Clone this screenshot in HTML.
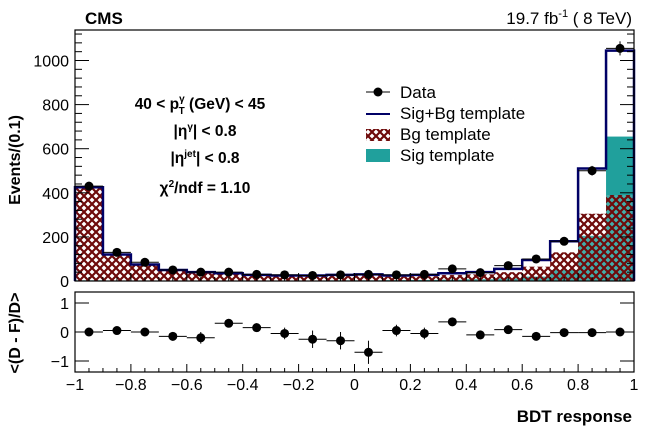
<!DOCTYPE html>
<html><head><meta charset="utf-8"><style>
body{margin:0;background:#fff}
svg text{font-family:"Liberation Sans",Arial,sans-serif}
</style></head><body>
<svg id="c" width="646" height="433" xmlns="http://www.w3.org/2000/svg">
<defs>
<pattern id="hatch" patternUnits="userSpaceOnUse" width="8" height="8">
<rect width="8" height="8" fill="#fff" fill-opacity="0.15"/>
<path d="M0,0 L8,8 M8,0 L0,8" stroke="#6e0a0a" stroke-width="2.2"/>
</pattern>
</defs>
<g id="topg"></g><g id="botg"></g>
<text x="85" y="24" font-size="17" font-weight="bold">CMS</text>
<text x="632" y="24" font-size="17" text-anchor="end">19.7 fb<tspan dy="-7" font-size="11">-1</tspan><tspan dy="7"> ( 8 TeV)</tspan></text>
<g font-size="15.5" font-weight="bold" text-anchor="middle">
<text x="200" y="109">40 &lt; p<tspan dy="-7" font-size="10">γ</tspan><tspan dx="-6" dy="12" font-size="10">T</tspan><tspan dy="-5"> (GeV) &lt;  45</tspan></text>
<text x="205" y="136">|η<tspan dy="-6" font-size="10">γ</tspan><tspan dy="6">| &lt; 0.8</tspan></text>
<text x="205" y="163">|η<tspan dy="-6" font-size="10">jet</tspan><tspan dy="6">| &lt; 0.8</tspan></text>
<text x="205" y="193">χ<tspan dy="-6" font-size="10">2</tspan><tspan dy="6">/ndf = 1.10</tspan></text>
</g>
<g font-size="17">
<g><line x1="366" y1="92" x2="390" y2="92" stroke="#000"/><circle cx="378" cy="92" r="4.5"/><text x="400" y="98">Data</text></g>
<g><line x1="366" y1="114" x2="390" y2="114" stroke="#000066" stroke-width="2"/><text x="400" y="119">Sig+Bg template</text></g>
<g><rect x="366" y="129" width="24" height="12" fill="url(#hatch)"/><text x="400" y="140">Bg template</text></g>
<g><rect x="366" y="149" width="24" height="13" fill="#20a09c"/><text x="400" y="161">Sig template</text></g>
</g>
<text transform="translate(20,160) rotate(-90)" font-size="16" font-weight="bold" text-anchor="middle">Events/(0.1)</text>
<text transform="translate(20,333) rotate(-90)" font-size="16" font-weight="bold" text-anchor="middle">&lt;(D - F)/D&gt;</text>
<text x="632" y="422" font-size="17" font-weight="bold" text-anchor="end">BDT response</text>
</svg>
<script>
const edges=[-1,-0.9,-0.8,-0.7,-0.6,-0.5,-0.4,-0.3,-0.2,-0.1,0,0.1,0.2,0.3,0.4,0.5,0.6,0.7,0.8,0.9,1];
const dataVals=[430,130,85,50,40,40,30,28,25,28,30,28,30,55,38,70,100,180,500,1055];
const dataErr=[20,12,9,7,6,6,6,5,5,5,20,5,5,7,6,8,10,13,22,32];
const fitVals=[425,120,75,50,40,35,28,25,25,28,30,25,28,35,40,55,95,180,510,1045];
const bgVals=[420,118,73,47,37,33,26,23,22,25,26,20,22,27,30,40,65,130,305,390];
const sigVals=[3,2,2,2,2,2,2,2,2,3,3,4,5,6,8,12,20,50,205,655];
const ratioVals=[0,0.05,0,-0.15,-0.2,0.3,0.15,-0.05,-0.25,-0.3,-0.7,0.05,-0.05,0.35,-0.1,0.08,-0.15,-0.02,-0.02,0];
const ratioErr=[0.05,0.05,0.08,0.15,0.2,0.1,0.15,0.2,0.3,0.3,0.4,0.2,0.2,0.1,0.15,0.1,0.1,0.06,0.05,0.04];
const yTicks=[0,200,400,600,800,1000];
const rTicks=[-1,0,1];
const xTicks=[-1,-0.8,-0.6,-0.4,-0.2,0,0.2,0.4,0.6,0.8,1];

const NS="http://www.w3.org/2000/svg";
const L=75,R=634,T=30,B=281,RT=292,RB=372;
const sx=v=>L+(v+1)/2*(R-L);
const sy=v=>B-v*0.2205;
const ry=v=>332-v*29;
function mk(p,tag,a){const e=document.createElementNS(NS,tag);for(const k in a)e.setAttribute(k,a[k]);p.appendChild(e);return e;}
const topG=document.getElementById('topg'),botG=document.getElementById('botg');
for(let i=0;i<sigVals.length;i++){const x0=sx(edges[i]),x1=sx(edges[i+1]);
const r=mk(topG,'rect',{x:x0,y:sy(sigVals[i]),width:x1-x0,height:B-sy(sigVals[i]),fill:'#20a09c'});

}
for(let i=0;i<bgVals.length;i++){const x0=sx(edges[i]),x1=sx(edges[i+1]);
const r=mk(topG,'rect',{x:x0,y:sy(bgVals[i]),width:x1-x0,height:B-sy(bgVals[i]),fill:'url(#hatch)'});

}
let d='M'+sx(edges[0])+','+B;
for(let i=0;i<fitVals.length;i++){d+=' L'+sx(edges[i])+','+sy(fitVals[i])+' L'+sx(edges[i+1])+','+sy(fitVals[i]);}
d+=' L'+sx(1)+','+B;
const fl=mk(topG,'path',{d:d,fill:'none',stroke:'#000066','stroke-width':2.5});


for(let i=0;i<dataVals.length;i++){const c=(edges[i]+edges[i+1])/2,y=sy(dataVals[i]);
mk(topG,'line',{x1:sx(edges[i]),x2:sx(edges[i+1]),y1:y,y2:y,stroke:'#000'});
mk(topG,'line',{x1:sx(c),x2:sx(c),y1:sy(dataVals[i]-dataErr[i]),y2:sy(dataVals[i]+dataErr[i]),stroke:'#000'});
const p=mk(topG,'circle',{cx:sx(c),cy:y,r:4.5,fill:'#000'});

}
mk(topG,'rect',{x:L,y:T,width:R-L,height:B-T,fill:'none',stroke:'#000','stroke-width':1.2});
mk(botG,'rect',{x:L,y:RT,width:R-L,height:RB-RT,fill:'none',stroke:'#000','stroke-width':1.2});
for(let v=0;v<=1140;v+=40){const y=sy(v);const maj=v%200===0;
mk(topG,'line',{x1:L,x2:L+(maj?14:7),y1:y,y2:y,stroke:'#000'});
mk(topG,'line',{x1:R,x2:R-(maj?14:7),y1:y,y2:y,stroke:'#000'});}
yTicks.forEach(v=>{const t=mk(topG,'text',{x:L-6,y:sy(v)+6,'font-size':16,'text-anchor':'end'});t.textContent=v;

});
for(let k=0;k<=40;k++){const v=-1+k*0.05;const maj=k%4===0;const x=sx(v);
mk(topG,'line',{x1:x,x2:x,y1:B,y2:B-(maj?8:4),stroke:'#000'});
mk(botG,'line',{x1:x,x2:x,y1:RB,y2:RB-(maj?8:4),stroke:'#000'});}
xTicks.forEach(v=>{const t=mk(botG,'text',{x:sx(v),y:390,'font-size':16,'text-anchor':'middle'});t.textContent=(v<0?'\u2212':'')+Math.abs(v);

});
rTicks.forEach(v=>{const y=ry(v);mk(botG,'line',{x1:L,x2:L+14,y1:y,y2:y,stroke:'#000'});mk(botG,'line',{x1:R,x2:R-14,y1:y,y2:y,stroke:'#000'});
const t=mk(botG,'text',{x:L-6,y:y+6,'font-size':16,'text-anchor':'end'});t.textContent=(v<0?'\u2212':'')+Math.abs(v);

});
for(let i=0;i<ratioVals.length;i++){const c=(edges[i]+edges[i+1])/2,y=ry(ratioVals[i]);
mk(botG,'line',{x1:sx(edges[i]),x2:sx(edges[i+1]),y1:y,y2:y,stroke:'#000'});
mk(botG,'line',{x1:sx(c),x2:sx(c),y1:ry(ratioVals[i]-ratioErr[i]),y2:ry(ratioVals[i]+ratioErr[i]),stroke:'#000'});
const p=mk(botG,'circle',{cx:sx(c),cy:y,r:4.5,fill:'#000'});

}
</script>
</body></html>
